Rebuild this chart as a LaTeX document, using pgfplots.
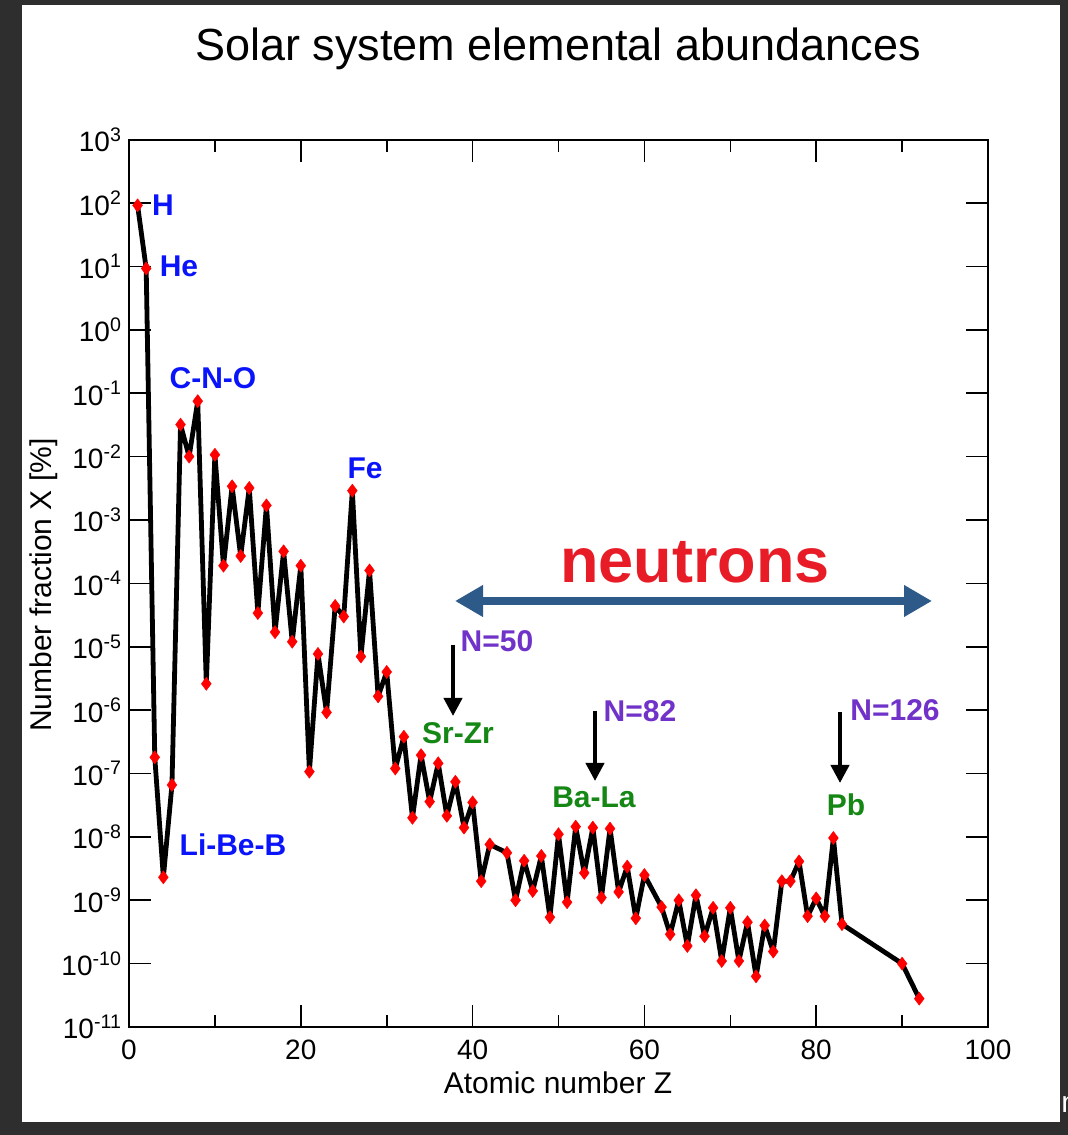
\documentclass[border=0pt]{standalone}
\usepackage{pgfplots}
\pgfplotsset{compat=1.18}
\usepackage{pgfplotstable}
\usepackage{fontspec}
\setmainfont{Liberation Sans}
\usetikzlibrary{arrows.meta}

\definecolor{framegray}{RGB}{46,46,46}
\definecolor{labelblue}{RGB}{10,20,250}
\definecolor{labelgreen}{RGB}{20,135,20}
\definecolor{labelpurple}{RGB}{112,50,200}
\definecolor{neutronred}{RGB}{232,28,38}
\definecolor{arrowblue}{RGB}{46,90,138}

% Solar system abundances: atomic number Z, number fraction X in percent
\pgfplotstableread{
Z  X
1  92
2  9.3
3  1.8e-7
4  2.3e-9
5  6.6e-8
6  0.032
7  0.010
8  0.075
9  2.6e-6
10 0.0107
11 1.9e-4
12 3.4e-3
13 2.7e-4
14 3.2e-3
15 3.4e-5
16 1.7e-3
17 1.7e-5
18 3.2e-4
19 1.2e-5
20 1.9e-4
21 1.07e-7
22 7.7e-6
23 9.2e-7
24 4.4e-5
25 3.0e-5
26 2.9e-3
27 7.0e-6
28 1.6e-4
29 1.65e-6
30 4.0e-6
31 1.2e-7
32 3.8e-7
33 2.0e-8
34 1.95e-7
35 3.6e-8
36 1.45e-7
37 2.15e-8
38 7.4e-8
39 1.4e-8
40 3.5e-8
41 2.0e-9
42 7.6e-9
44 5.6e-9
45 1.0e-9
46 4.2e-9
47 1.4e-9
48 5.0e-9
49 5.4e-10
50 1.1e-8
51 9.3e-10
52 1.45e-8
53 2.7e-9
54 1.4e-8
55 1.1e-9
56 1.35e-8
57 1.35e-9
58 3.4e-9
59 5.2e-10
60 2.5e-9
62 7.8e-10
63 2.9e-10
64 1.0e-9
65 1.9e-10
66 1.2e-9
67 2.7e-10
68 7.6e-10
69 1.1e-10
70 7.6e-10
71 1.1e-10
72 4.5e-10
73 6.3e-11
74 4.0e-10
75 1.55e-10
76 2.0e-9
77 2.0e-9
78 4.1e-9
79 5.6e-10
80 1.07e-9
81 5.6e-10
82 9.6e-9
83 4.2e-10
90 1.0e-10
92 2.8e-11
}\abund

\begin{document}
\begin{tikzpicture}
\clip (0,0) rectangle (534pt,567.5pt);
\fill[framegray] (0,0) rectangle (534pt,567.5pt);
% white slide panel
\begin{scope}[x=0.5pt,y=-0.5pt,shift={(0,567.5pt)}]
  \fill[white] (22,5) rectangle (1060,1122);
\end{scope}

\begin{axis}[
  at={(64.5pt,54pt)}, anchor=south west,
  scale only axis, width=429.5pt, height=443.65pt,
  xmin=0, xmax=100,
  ymode=log, log basis y=10,
  ymin=1e-11, ymax=1e3,
  axis line style={line width=1pt},
  xtick={0,20,...,100},
  minor xtick={10,30,50,70,90},
  ytick={1e-11,1e-10,1e-9,1e-8,1e-7,1e-6,1e-5,1e-4,1e-3,1e-2,1e-1,1,10,100,1000},
  yticklabels={10\textsuperscript{-11},10\textsuperscript{-10},10\textsuperscript{-9},10\textsuperscript{-8},10\textsuperscript{-7},10\textsuperscript{-6},10\textsuperscript{-5},10\textsuperscript{-4},10\textsuperscript{-3},10\textsuperscript{-2},10\textsuperscript{-1},10\textsuperscript{0},10\textsuperscript{1},10\textsuperscript{2},10\textsuperscript{3}},
  yminorticks=false,
  tick align=inside,
  major tick length=11pt,
  minor tick length=6pt,
  every tick/.style={black, line width=0.8pt},
  tick label style={font=\fontsize{14}{14}\selectfont},
  xticklabel style={yshift=-3pt},
  /pgf/number format/assume math mode=true,
]
\addplot[black, line width=2.4pt, line join=round,
  mark=diamond*, mark size=3.3pt,
  mark options={fill=red, draw=red, line width=0.2pt}] table[x=Z, y=X] {\abund};
\end{axis}

\begin{scope}[x=0.5pt,y=-0.5pt,shift={(0,567.5pt)}]
  % title and axis labels
  \node[anchor=base, inner sep=0, font=\fontsize{22.5}{24}\selectfont] at (558,61) {Solar system elemental abundances};
  \node[anchor=base, inner sep=0, font=\fontsize{15}{16}\selectfont] at (558,1094) {Atomic number Z};
  \node[anchor=base, inner sep=0, rotate=90, font=\fontsize{15}{16}\selectfont] at (51,585) {Number fraction X [\%]};

  % element group labels
  \begin{scope}[every node/.style={inner sep=0, font=\bfseries\fontsize{15}{16}\selectfont}]
    \node[labelblue] at (163,205) {H};
    \node[labelblue] at (179,266) {He};
    \node[labelblue] at (213,378) {C-N-O};
    \node[labelblue] at (365,468) {Fe};
    \node[labelblue] at (233,845) {Li-Be-B};
    \node[labelgreen] at (458,733) {Sr-Zr};
    \node[labelgreen] at (594,797) {Ba-La};
    \node[labelgreen] at (846,805) {Pb};
    \node[labelpurple] at (497,641) {N=50};
    \node[labelpurple] at (640,711) {N=82};
    \node[labelpurple] at (895,710) {N=126};
  \end{scope}

  % magic neutron number arrows
  \begin{scope}[line width=2pt, -{Triangle[length=9pt,width=9pt]}]
    \draw (453,645) -- (453,716);
    \draw (595,711) -- (595,781);
    \draw (840,712) -- (840,783);
  \end{scope}

  % neutron capture range
  \draw[arrowblue, line width=4pt, {Triangle[length=14pt,width=15pt]}-{Triangle[length=14pt,width=15pt]}] (455,601) -- (932,601);
  \node[anchor=base, inner sep=0, neutronred, font=\bfseries\fontsize{31.5}{32}\selectfont] at (695,583) {neutrons};

  % edge of neighbouring slide text
  \node[anchor=base west, inner sep=0, white, font=\fontsize{15}{16}\selectfont] at (1061,1112) {n};
\end{scope}
\end{tikzpicture}
\end{document}
